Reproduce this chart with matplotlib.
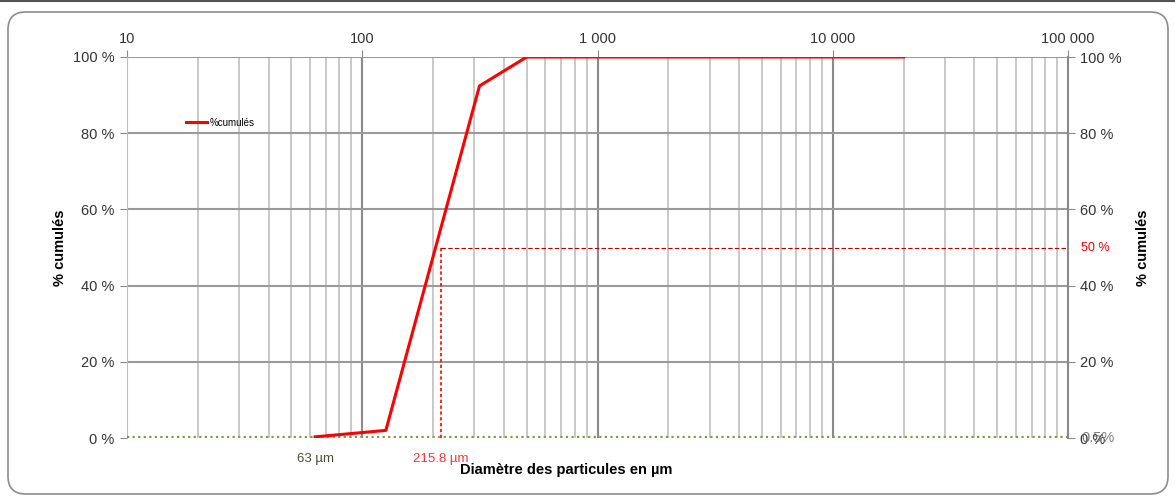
import matplotlib
matplotlib.use("Agg")
import matplotlib.pyplot as plt
from matplotlib.patches import FancyBboxPatch
import numpy as np

plt.rcParams['font.family'] = ['Liberation Sans', 'DejaVu Sans']

# Data
diam_um = [63, 126, 315, 500, 1000, 2000, 5000, 10000, 20000]
cum_pct = [0.3, 2.0, 92.4, 100, 100, 100, 100, 100, 100]
d50 = 215.8
d50_pct = 50
d_min = 63
x_ticks = [10, 100, 1000, 10000, 100000]
x_tick_labels = ['10', '100', '1 000', '10 000', '100 000']
y_ticks = [0, 20, 40, 60, 80, 100]
y_tick_labels = ['0 %', '20 %', '40 %', '60 %', '80 %', '100 %']

TXT = '#333333'

fig = plt.figure(figsize=(11.75, 4.96), dpi=100)

# outer frame
frame = FancyBboxPatch((8/1175, 2/496), 1160/1175, 482/496,
                       boxstyle="round,pad=0,rounding_size=0.015",
                       transform=fig.transFigure, fill=False,
                       edgecolor='#8c8c8c', linewidth=1.2,
                       mutation_aspect=1175/496)
fig.patches.append(frame)
fig.add_artist(plt.Line2D([0, 1], [1 - 1/496, 1 - 1/496], transform=fig.transFigure,
                          color='#555555', lw=1.5))

ax = fig.add_axes([127/1175, 1 - 438/496, 941/1175, 381/496])
ax.set_xscale('log')
ax.set_xlim(10, 100000)
ax.set_ylim(0, 100)

# grid
for dec in [10, 100, 1000, 10000]:
    for m in range(2, 10):
        ax.axvline(dec * m, color='#c0c0c0', lw=1.2, zorder=1)
for dec in [100, 1000, 10000]:
    ax.axvline(dec, color='#8a8a8a', lw=1.5, zorder=1)
for y in y_ticks[1:]:
    ax.axhline(y, color='#9a9a9a', lw=1.5, zorder=1)

ax.xaxis.set_ticks_position('top')
ax.set_xticks(x_ticks)
ax.set_xticklabels(x_tick_labels, fontsize=10.5, color=TXT)
ax.xaxis.set_minor_locator(matplotlib.ticker.NullLocator())
ax.tick_params(axis='x', which='major', length=5, color='#8a8a8a', pad=3)

ax.set_yticks(y_ticks)
ax.set_yticklabels(y_tick_labels, fontsize=10.5, color=TXT)
ax.tick_params(axis='y', length=5, color='#8a8a8a', pad=4)

for s in ['top', 'bottom']:
    ax.spines[s].set_visible(False)
ax.spines['left'].set_color('#bfbfbf')
ax.spines['right'].set_color('#8a8a8a')
ax.spines['right'].set_linewidth(1.5)

ax2 = ax.twinx()
ax2.set_ylim(0, 100)
ax2.set_yticks(y_ticks)
ax2.set_yticklabels(y_tick_labels, fontsize=10.5, color=TXT)
ax2.tick_params(axis='y', length=5, color='#8a8a8a', pad=4)
for s in ['top', 'bottom', 'left', 'right']:
    ax2.spines[s].set_visible(False)
ax2.text(1.0 + 13/941, 0, '0.5%', transform=ax2.get_yaxis_transform(),
         fontsize=10.5, color='#666666', va='center', ha='left', alpha=0.85)
ax2.text(1.0 + 13/941, 50, '50 %', transform=ax2.get_yaxis_transform(),
         fontsize=9, color='red', va='center', ha='left')

# bottom dotted baseline
ax.plot([10, 100000], [0.3, 0.3], color='#7f9a4a', lw=1.6, ls=(0, (1, 1.5)), zorder=3)

# d50 lines
ax.plot([d50, 100000], [d50_pct, d50_pct], color='#c00000', lw=0.8, ls=(0, (4, 2)), zorder=3)
ax.plot([d50, d50], [0, d50_pct], color='red', lw=1.2, ls=(0, (2, 1.5)), zorder=3)

# main curve
ax.plot(diam_um, cum_pct, color='red', lw=2.2, zorder=4, label='%cumulés')

leg = ax.legend(loc='upper left', bbox_to_anchor=(55/941, 1 - 57/381), frameon=False,
                fontsize=7, handlelength=2.2, handletextpad=0.2, borderaxespad=0)

ax.set_ylabel('% cumulés', fontsize=10.5, fontweight='bold', labelpad=4)
ax2.set_ylabel('% cumulés', fontsize=10.5, fontweight='bold', labelpad=10)

# annotations below axis
ax.text(d_min, -5.5, '63 µm', fontsize=9.5, color='#4d4d33', ha='center', va='center',
        transform=ax.transData, clip_on=False)
ax.text(d50, -5.5, '215.8 µm', fontsize=9.5, color='#ff3333', ha='center', va='center',
        transform=ax.transData, clip_on=False)
fig.text(566/1175, 1 - 470/496, 'Diamètre des particules en µm', fontsize=10.5,
         fontweight='bold', ha='center', va='center')

fig.savefig('out.png', dpi=100)
